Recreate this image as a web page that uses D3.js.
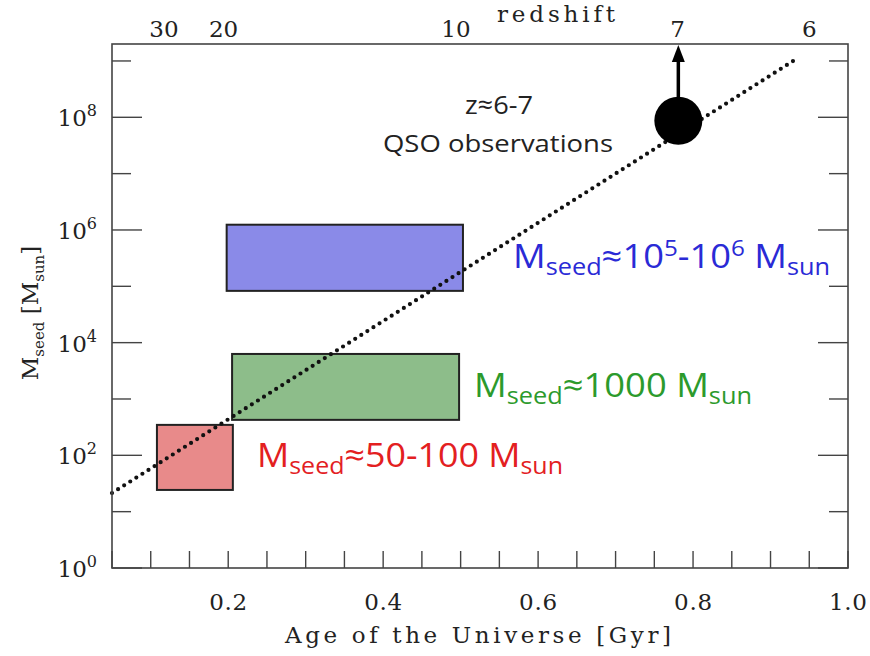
<!DOCTYPE html>
<html>
<head>
<meta charset="utf-8">
<script src="https://cdn.jsdelivr.net/npm/d3@7"></script>
<style>
  body { margin: 0; background: #fff; }
  .serif { font-family: "DejaVu Serif", "Liberation Serif", serif; fill: #222; }
  .sans { font-family: "Open Sans", Lato, sans-serif; }
</style>
</head>
<body>
<div id="chart"></div>
<script>
// ---- data ----
var ageTicks = [0.05, 0.1, 0.15, 0.2, 0.25, 0.3, 0.35, 0.4, 0.45, 0.5, 0.55, 0.6, 0.65, 0.7, 0.75, 0.8, 0.85, 0.9, 0.95, 1.0];
var ageLabels = [0.2, 0.4, 0.6, 0.8, 1.0];
var massExps = [0, 1, 2, 3, 4, 5, 6, 7, 8, 9];
var massLabelExps = [0, 2, 4, 6, 8];

var redshiftLabels = [30, 20, 10, 7, 6];
var redshiftAges = [0.117, 0.194, 0.494, 0.78, 0.95];

// seed boxes
var seedNames = ["heavy", "intermediate", "light"];
var seedAgeMin = [0.198, 0.205, 0.108];
var seedAgeMax = [0.503, 0.498, 0.206];
var seedMassMin = [8.3e4, 426, 24.3];
var seedMassMax = [1.24e6, 6300, 347];
var seedFill = ["#8a8ae8", "#8dbd8a", "#e88a8a"];
var seedText = ["#2a2ad6", "#2c9a2c", "#e3201f"];
var seedLabelMain = ["≈10", "≈1000 M", "≈50-100 M"];

// growth track (dotted)
var trendAge = [0.05, 0.934];
var trendMass = [21.4, 1.1e9];

// QSO observations
var qsoAge = 0.781;
var qsoMass = 8.7e7;

// ---- layout ----
var W = 870, H = 656;
var margin = {top: 44, right: 22, bottom: 88, left: 112};

var svg = d3.select("#chart").append("svg")
  .attr("width", W).attr("height", H);

var x = d3.scaleLinear().domain([0.05, 1.0]).range([margin.left, W - margin.right]);
var y = d3.scaleLog().domain([1, 2e9]).range([H - margin.bottom, margin.top]);

var x0 = margin.left, x1 = W - margin.right, y0 = H - margin.bottom, y1 = margin.top;

// seed boxes
svg.append("g").selectAll("rect")
  .data(seedNames)
  .enter().append("rect")
    .attr("x", function(d, i) { return x(seedAgeMin[i]); })
    .attr("y", function(d, i) { return y(seedMassMax[i]); })
    .attr("width", function(d, i) { return x(seedAgeMax[i]) - x(seedAgeMin[i]); })
    .attr("height", function(d, i) { return y(seedMassMin[i]) - y(seedMassMax[i]); })
    .style("fill", function(d, i) { return seedFill[i]; })
    .style("stroke", "#222")
    .style("stroke-width", 2);

// dotted track
var line = d3.line()
  .x(function(d) { return x(d[0]); })
  .y(function(d) { return y(d[1]); });
svg.append("path")
  .datum(trendAge.map(function(a, i) { return [a, trendMass[i]]; }))
  .attr("d", line)
  .style("fill", "none")
  .style("stroke", "#111")
  .style("stroke-width", 4.2)
  .style("stroke-linecap", "round")
  .style("stroke-dasharray", "0 7.2");

// QSO point + arrow
svg.append("line")
  .attr("x1", x(qsoAge)).attr("x2", x(qsoAge))
  .attr("y1", y(qsoMass)).attr("y2", y1 + 14)
  .style("stroke", "#000").style("stroke-width", 3.5);
svg.append("path")
  .attr("d", "M" + x(qsoAge) + "," + (y1 + 1) + " l-6.5,17 l13,0 z")
  .style("fill", "#000");
svg.append("circle")
  .attr("cx", x(qsoAge)).attr("cy", y(qsoMass)).attr("r", 24)
  .style("fill", "#000");

// frame
svg.append("rect")
  .attr("x", x0).attr("y", y1).attr("width", x1 - x0).attr("height", y0 - y1)
  .style("fill", "none").style("stroke", "#444").style("stroke-width", 1.6);

// bottom ticks
svg.append("g").selectAll("line")
  .data(ageTicks)
  .enter().append("line")
    .attr("x1", function(d) { return x(d); }).attr("x2", function(d) { return x(d); })
    .attr("y1", y0).attr("y2", y0 - 17)
    .style("stroke", "#444").style("stroke-width", 1.4);

// left & right ticks
[x0, x1].forEach(function(edge, side) {
  svg.append("g").selectAll("line")
    .data(massExps)
    .enter().append("line")
      .attr("x1", edge)
      .attr("x2", function(d) {
        var len = (d % 2 === 0) ? 30 : 19;
        return side === 0 ? edge + len : edge - len;
      })
      .attr("y1", function(d) { return y(Math.pow(10, d)); })
      .attr("y2", function(d) { return y(Math.pow(10, d)); })
      .style("stroke", "#444").style("stroke-width", 1.4);
});

// bottom labels
svg.append("g").selectAll("text")
  .data(ageLabels)
  .enter().append("text")
    .attr("class", "serif")
    .attr("x", function(d) { return x(d); })
    .attr("y", y0 + 42)
    .attr("text-anchor", "middle")
    .attr("textLength", 38)
    .style("font-size", "23px")
    .text(function(d) { return d3.format(".1f")(d); });

svg.append("text")
  .attr("class", "serif")
  .attr("x", 478).attr("y", 643)
  .attr("text-anchor", "middle")
  .attr("textLength", 386)
  .attr("lengthAdjust", "spacing")
  .style("font-size", "23px")
  .text("Age of the Universe [Gyr]");

// left labels 10^n
var ylab = svg.append("g").selectAll("text")
  .data(massLabelExps)
  .enter().append("text")
    .attr("class", "serif")
    .attr("x", 97)
    .attr("y", function(d) { return y(Math.pow(10, d)) + 9; })
    .attr("text-anchor", "end")
    .style("font-size", "23px");
ylab.append("tspan").text("10");
ylab.append("tspan")
  .attr("dy", -10)
  .style("font-size", "16px")
  .text(function(d) { return d; });

// y title
var yt = svg.append("text")
  .attr("class", "serif")
  .attr("transform", "translate(38,313) rotate(-90)")
  .attr("text-anchor", "middle")
  .style("font-size", "23px");
yt.append("tspan").text("M");
yt.append("tspan").attr("dy", 6).style("font-size", "15px").text("seed");
yt.append("tspan").attr("dy", -6).text(" [M");
yt.append("tspan").attr("dy", 6).style("font-size", "15px").text("sun");
yt.append("tspan").attr("dy", -6).text("]");

// top redshift labels
svg.append("g").selectAll("text")
  .data(redshiftLabels)
  .enter().append("text")
    .attr("class", "serif")
    .attr("x", function(d, i) { return x(redshiftAges[i]); })
    .attr("y", 37)
    .attr("text-anchor", "middle")
    .style("font-size", "23px")
    .text(function(d) { return d; });

svg.append("text")
  .attr("class", "serif")
  .attr("x", 556).attr("y", 22)
  .attr("text-anchor", "middle")
  .attr("textLength", 118)
  .attr("lengthAdjust", "spacing")
  .style("font-size", "23px")
  .text("redshift");

// QSO annotation
svg.append("text")
  .attr("class", "sans")
  .attr("x", 499).attr("y", 114)
  .attr("text-anchor", "middle")
  .attr("textLength", 68)
  .attr("lengthAdjust", "spacingAndGlyphs")
  .style("font-size", "26px").style("fill", "#222")
  .text("z≈6-7");
svg.append("text")
  .attr("class", "sans")
  .attr("x", 498).attr("y", 152)
  .attr("text-anchor", "middle")
  .attr("textLength", 230)
  .attr("lengthAdjust", "spacingAndGlyphs")
  .style("font-size", "24px").style("fill", "#222")
  .text("QSO observations");

// seed labels
var seedLabelX = [513, 474, 257];
var seedLabelY = [268, 397, 467];
var seedLabelW = [317, 278, 306];

function seedLabel(i) {
  var t = svg.append("text")
    .attr("class", "sans")
    .attr("x", seedLabelX[i]).attr("y", seedLabelY[i])
    .attr("textLength", seedLabelW[i])
    .attr("lengthAdjust", "spacingAndGlyphs")
    .style("font-size", "33px")
    .style("fill", seedText[i]);
  t.append("tspan").text("M");
  t.append("tspan").attr("dy", 7).style("font-size", "23px").text("seed");
  if (i === 0) {
    t.append("tspan").attr("dy", -7).text("≈10");
    t.append("tspan").attr("dy", -12).style("font-size", "22px").text("5");
    t.append("tspan").attr("dy", 12).text("-10");
    t.append("tspan").attr("dy", -12).style("font-size", "22px").text("6");
    t.append("tspan").attr("dy", 12).text(" M");
  } else {
    t.append("tspan").attr("dy", -7).text(seedLabelMain[i]);
  }
  t.append("tspan").attr("dy", 7).style("font-size", "23px").text("sun");
}
seedNames.forEach(function(d, i) { seedLabel(i); });
</script>
</body>
</html>
